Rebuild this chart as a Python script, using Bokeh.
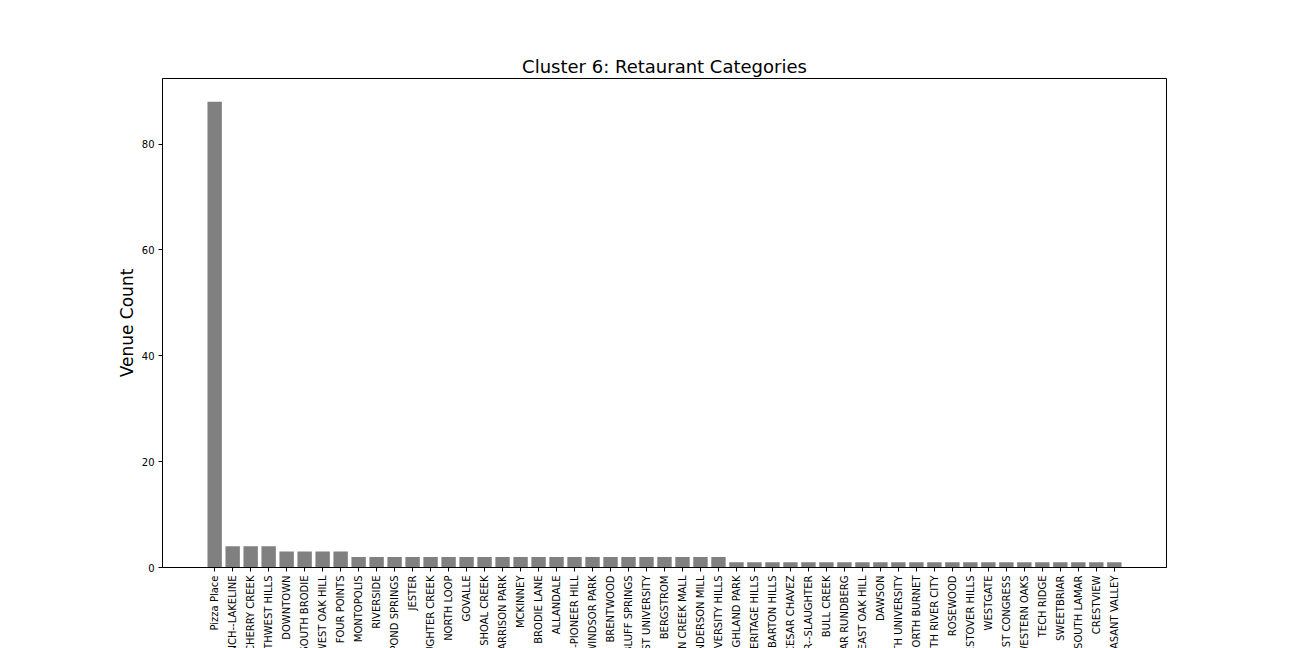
import math
from bokeh.plotting import figure
from bokeh.models import ColumnDataSource, Range1d, FixedTicker, GlobalInlineStyleSheet
from bokeh.embed import file_html
from bokeh.resources import INLINE

categories = [
    "Pizza Place", "STEINER RANCH--LAKELINE", "CHERRY CREEK", "NORTHWEST HILLS",
    "DOWNTOWN", "SOUTH BRODIE", "WEST OAK HILL", "FOUR POINTS", "MONTOPOLIS",
    "RIVERSIDE", "POND SPRINGS", "JESTER", "SLAUGHTER CREEK", "NORTH LOOP",
    "GOVALLE", "SHOAL CREEK", "GARRISON PARK", "MCKINNEY", "BRODIE LANE",
    "ALLANDALE", "DESSAU--PIONEER HILL", "WINDSOR PARK", "BRENTWOOD",
    "BLUFF SPRINGS", "WEST UNIVERSITY", "BERGSTROM", "BARTON CREEK MALL",
    "ANDERSON MILL", "UNIVERSITY HILLS", "HIGHLAND PARK", "HERITAGE HILLS",
    "BARTON HILLS", "CESAR CHAVEZ", "MANOR--SLAUGHTER", "BULL CREEK",
    "LAMAR RUNDBERG", "EAST OAK HILL", "DAWSON", "NORTH UNIVERSITY",
    "NORTH BURNET", "SOUTH RIVER CITY", "ROSEWOOD", "WESTOVER HILLS",
    "WESTGATE", "WEST CONGRESS", "WESTERN OAKS", "TECH RIDGE", "SWEETBRIAR",
    "SOUTH LAMAR", "CRESTVIEW", "PLEASANT VALLEY",
]
counts = [88, 4, 4, 4, 3, 3, 3, 3] + [2] * 21 + [1] * 22
y_ticks = [0, 20, 40, 60, 80]

n = len(categories)
xs = list(range(n))
ymax = max(counts) * 1.05

src = ColumnDataSource(dict(x=xs, top=counts))

FIG_H = 820
frame_bottom = 567

p = figure(width=1296, height=FIG_H, output_backend="svg", toolbar_location=None,
           x_range=Range1d(-2.9, n - 1 + 2.9), y_range=Range1d(0, ymax),
           min_border_left=162, min_border_right=130, min_border_top=78,
           min_border_bottom=FIG_H - frame_bottom,
           title="Cluster 6: Retaurant Categories",
           stylesheets=[GlobalInlineStyleSheet(css="html, body { overflow: hidden; margin: 0; }")])

p.vbar(x="x", top="top", width=0.8, bottom=0, source=src,
       fill_color="#808080", line_color=None)

p.title.align = "center"
p.title.text_font = "DejaVu Sans"
p.title.text_font_size = "18px"
p.title.text_font_style = "normal"
p.title.text_color = "black"
p.title.offset = 0
p.title.standoff = 4

p.xgrid.visible = False
p.ygrid.visible = False
p.outline_line_color = "black"
p.outline_line_alpha = 1
p.outline_line_width = 1

for ax in (p.xaxis[0], p.yaxis[0]):
    ax.axis_line_color = "black"
    ax.major_tick_line_color = "black"
    ax.major_tick_in = 0
    ax.major_tick_out = 4
    ax.minor_tick_line_color = None
    ax.major_label_text_font = "DejaVu Sans"
    ax.major_label_text_font_size = "10px"
    ax.major_label_text_color = "black"

p.xaxis.ticker = FixedTicker(ticks=xs)
p.xaxis.major_label_overrides = {i: name for i, name in enumerate(categories)}
p.xaxis.major_label_orientation = math.pi / 2
p.xaxis.major_label_standoff = 4

p.yaxis.ticker = FixedTicker(ticks=y_ticks)
p.yaxis.major_label_standoff = 4
p.yaxis.axis_label = "Venue Count"
p.yaxis.axis_label_text_font = "DejaVu Sans"
p.yaxis.axis_label_text_font_size = "17px"
p.yaxis.axis_label_text_font_style = "normal"
p.yaxis.axis_label_text_color = "black"
p.yaxis.axis_label_standoff = 2

open("out.html", "w").write(file_html(p, INLINE))
